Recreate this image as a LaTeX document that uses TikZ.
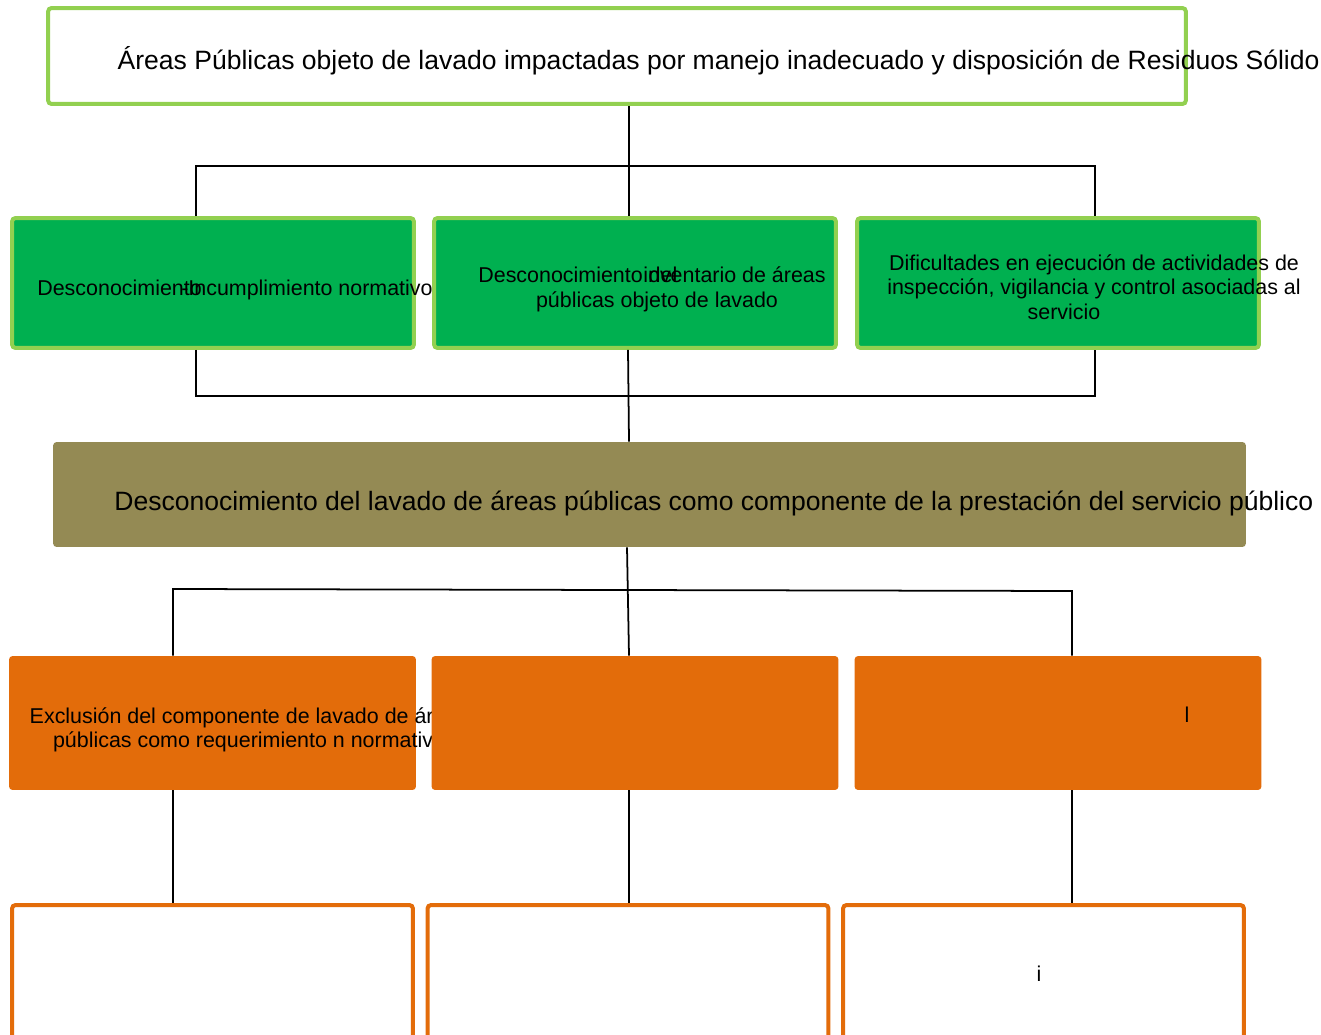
\documentclass[tikz,border=0pt]{standalone}
\usepackage{fontspec}
\setmainfont{Liberation Sans}
\definecolor{verdeclaro}{HTML}{92D050}
\definecolor{verde}{HTML}{00B050}
\definecolor{oliva}{HTML}{948A54}
\definecolor{naranja}{HTML}{E36C0A}
\tikzset{
	caja/.style={rectangle, rounded corners=2pt, inner sep=0pt},
	causa/.style={caja, draw=verdeclaro, fill=verde, line width=0.08cm, minimum width=8.04cm, minimum height=2.6cm},
	efecto/.style={caja, fill=naranja, minimum width=8.14cm, minimum height=2.68cm},
	final/.style={caja, draw=naranja, fill=white, line width=0.08cm, minimum width=8.02cm, minimum height=2.72cm},
	texto/.style={inner sep=0pt, font=\fontsize{12.2}{14}\selectfont},
	grande/.style={inner sep=0pt, font=\fontsize{15.1}{18}\selectfont},
	linea/.style={line width=1pt},
}
\begin{document}
\begin{tikzpicture}[x=0.02cm, y=-0.02cm]
		\useasboundingbox (0,0) rectangle (1321,1034);
		\coordinate (a) at (629,166) ;
		\coordinate (c) at (628,396) ;
		\coordinate (d) at (627,545) ;
		\coordinate (hl) at (196,166) ;
		\coordinate (hr) at (1095,166) ;
		\coordinate (bl) at (196,396) ;
		\coordinate (br) at (1095,396) ;
		\coordinate (ol) at (173,589) ;
		\coordinate (or) at (1072,591) ;
		\node[caja, draw=verdeclaro, fill=white, line width=0.08cm, minimum width=22.76cm, minimum height=1.92cm] (problema) at (617,56) {};
		\node[grande, anchor=base east] (tproblema) at (1320,70) {Áreas Públicas objeto de lavado impactadas por manejo inadecuado y disposición de Residuos Sólido};
		\node[causa] (g1) at (213,283) {};
		\node[texto, anchor=base west] (tg1a) at (37,295) {Desconocimiento};
		\node[texto, anchor=base east] (tg1b) at (433,295) {-Incumplimiento normativo};
		\node[causa] (g2) at (635,283) {};
		\node[texto, anchor=base west] (tg2a) at (478,282) {Desconocimiento del};
		\node[texto, anchor=base east] (tg2b) at (826,282) {inventario de áreas};
		\node[texto, anchor=base] (tg2c) at (657,307) {públicas objeto de lavado};
		\node[causa] (g3) at (1058,283) {};
		\node[texto, align=center] (tg3) at (1094,287) {Dificultades en ejecución de actividades de\\inspección, vigilancia y control asociadas al\\servicio\hspace*{1.2cm}};
		\draw[linea] (problema.south -| a) -- (g2.north -| a);
		\draw[linea] (g1.north -| hl) -- (hl) -- (hr) -- (g3.north -| hr);
		\draw[linea] (g1.south -| bl) -- (bl) -- (br) -- (g3.south -| br);
		\node[caja, fill=oliva, minimum width=23.86cm, minimum height=2.1cm] (central) at (649.5,494.5) {};
		\node[grande, anchor=base west] (tcentral) at (114,510) {Desconocimiento del lavado de áreas públicas como componente de la prestación del servicio público};
		\draw[linea] (g2.south -| c) -- (central.north -| a);
		\node[efecto] (o1) at (212.5,723) {};
		\node[texto, align=center] (to1) at (249,730) {Exclusión del componente de lavado de áreas\\públicas como requerimiento n normativo};
		\node[efecto] (o2) at (635,723) {};
		\node[efecto] (o3) at (1058,723) {};
		\node[texto, anchor=base] (to3) at (1187,722) {l};
		\draw[linea] (central.south -| d) -- (o2.north -| a);
		\draw[linea] (o1.north -| ol) -- (ol) -- (or) -- (o3.north -| or);
		\node[final] (b1) at (212.5,973) {};
		\node[final] (b2) at (628,973) {};
		\node[final] (b3) at (1043.5,973) {};
		\node[texto, anchor=base] (tb3) at (1039,981) {i};
		\draw[linea] (o1.south -| ol) -- (b1.north -| ol);
		\draw[linea] (o2.south -| a) -- (b2.north -| a);
		\draw[linea] (o3.south -| or) -- (b3.north -| or);
\end{tikzpicture}
\end{document}
